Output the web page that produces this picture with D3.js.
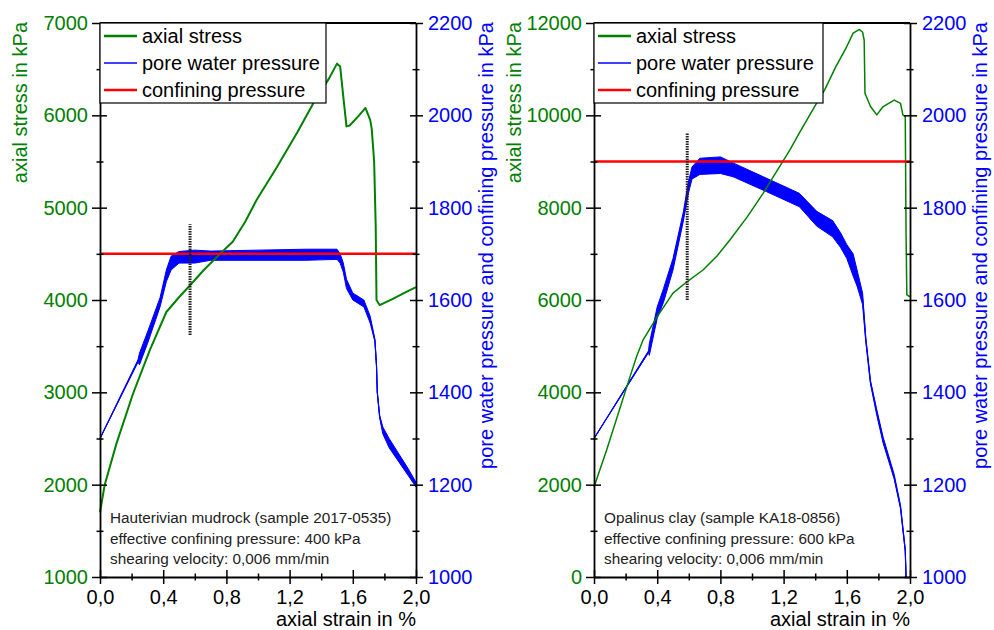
<!DOCTYPE html>
<html>
<head>
<meta charset="utf-8">
<script src="https://cdnjs.cloudflare.com/ajax/libs/d3/7.8.5/d3.min.js"></script>
<style>
  body { margin: 0; background: #fff; }
  svg { display: block; font-family: "Liberation Sans", Arial, sans-serif; }
</style>
</head>
<body>
<svg width="994" height="630"></svg>
<script>
// shared axes
const strainTicks = [0, 0.4, 0.8, 1.2, 1.6, 2.0];
const strainMinor = [0.2, 0.6, 1.0, 1.4, 1.8];
const poreTicks = [1000, 1200, 1400, 1600, 1800, 2000, 2200];
const poreMinor = [1100, 1300, 1500, 1700, 1900, 2100];
const legendLabels = ['axial stress', 'pore water pressure', 'confining pressure'];

// left panel: Hauterivian mudrock  [strain %, kPa]
const hauStressTicks = [1000, 2000, 3000, 4000, 5000, 6000, 7000];
const hauStressMinor = [1500, 2500, 3500, 4500, 5500, 6500];
const hauStress = [
  [0, 1700], [0.03, 2000], [0.105, 2450], [0.21, 2990], [0.316, 3460], [0.42, 3870],
  [0.5, 4030], [0.57, 4160], [0.66, 4330], [0.76, 4500], [0.84, 4630], [0.92, 4850],
  [0.99, 5080], [1.12, 5440], [1.25, 5820], [1.35, 6130], [1.45, 6400], [1.5, 6560],
  [1.52, 6530], [1.54, 6200], [1.56, 5880], [1.58, 5890], [1.64, 6000], [1.68, 6080],
  [1.71, 5950], [1.72, 5850], [1.735, 5500], [1.745, 4800], [1.75, 4000], [1.77, 3945],
  [1.85, 4010], [1.93, 4080], [2.0, 4140]
];
// [strain %, lower kPa, upper kPa]
const hauPore = [
  [0, 1300, 1300], [0.24, 1465, 1470], [0.25, 1460, 1485], [0.3, 1505, 1530],
  [0.38, 1585, 1605], [0.42, 1640, 1665], [0.45, 1665, 1695], [0.5, 1680, 1705],
  [0.6, 1680, 1708], [0.7, 1686, 1706], [1.0, 1686, 1708], [1.3, 1686, 1710],
  [1.5, 1688, 1710], [1.52, 1680, 1700], [1.54, 1660, 1680], [1.56, 1625, 1645],
  [1.6, 1600, 1615], [1.67, 1585, 1600], [1.71, 1550, 1565], [1.74, 1510, 1515],
  [1.75, 1455, 1460], [1.755, 1400, 1400], [1.77, 1345, 1350], [1.79, 1310, 1325],
  [1.83, 1280, 1300], [1.9, 1245, 1262], [1.95, 1220, 1235], [2.0, 1195, 1205]
];
const hauConfining = 1700;
const hauMarker = [0.57, 3620, 4820];
const hauNotes = ['Hauterivian mudrock (sample 2017-0535)', 'effective confining pressure: 400 kPa', 'shearing velocity: 0,006 mm/min'];

// right panel: Opalinus clay
const opaStressTicks = [0, 2000, 4000, 6000, 8000, 10000, 12000];
const opaStressMinor = [1000, 3000, 5000, 7000, 9000, 11000];
const opaStress = [
  [0, 1950], [0.08, 2750], [0.228, 4340], [0.27, 4780], [0.31, 5130], [0.4, 5640],
  [0.5, 6150], [0.59, 6400], [0.69, 6650], [0.78, 6960], [0.86, 7300], [0.97, 7800],
  [1.07, 8310], [1.2, 9030], [1.24, 9250], [1.3, 9620], [1.41, 10270], [1.46, 10550],
  [1.53, 11050], [1.6, 11490], [1.64, 11780], [1.68, 11860], [1.7, 11800], [1.71, 11630],
  [1.715, 10480], [1.75, 10190], [1.79, 10010], [1.83, 10190], [1.9, 10330], [1.94, 10260],
  [1.955, 10010], [1.97, 9970], [1.975, 7450], [1.98, 6110], [2.0, 6070]
];
const opaPore = [
  [0, 1300, 1300], [0.345, 1486, 1490], [0.35, 1480, 1505], [0.4, 1560, 1585],
  [0.44, 1595, 1625], [0.5, 1665, 1690], [0.565, 1770, 1790], [0.597, 1830, 1855],
  [0.62, 1862, 1888], [0.67, 1872, 1907], [0.8, 1874, 1910], [0.88, 1867, 1897],
  [1.09, 1835, 1864], [1.3, 1802, 1831], [1.41, 1760, 1792], [1.51, 1737, 1772],
  [1.56, 1714, 1746], [1.6, 1690, 1720], [1.64, 1652, 1700], [1.665, 1630, 1665],
  [1.7, 1590, 1615], [1.72, 1510, 1520], [1.75, 1418, 1425], [1.79, 1350, 1362],
  [1.83, 1290, 1303], [1.9, 1212, 1222], [1.94, 1148, 1155], [1.97, 1055, 1060],
  [1.975, 1000, 1000]
];
const opaConfining = 1900;
const opaMarker = [0.59, 6000, 9620];
const opaNotes = ['Opalinus clay (sample KA18-0856)', 'effective confining pressure: 600 kPa', 'shearing velocity: 0,006 mm/min'];

const green = '#008000', blue = '#0000ff', red = '#ff0000';
const plotTop = 23, plotBottom = 577;

const svg = d3.select('svg');

const panels = [
  { left: 100, right: 416, domain: [1000, 7000], ticks: hauStressTicks, minor: hauStressMinor,
    stress: hauStress, pore: hauPore, confining: hauConfining, marker: hauMarker, notes: hauNotes,
    legendW: 226, stressW: 2 },
  { left: 594, right: 910, domain: [0, 12000], ticks: opaStressTicks, minor: opaStressMinor,
    stress: opaStress, pore: opaPore, confining: opaConfining, marker: opaMarker, notes: opaNotes,
    legendW: 229, stressW: 1.5 }
];

const fmtStrain = d => d3.format('.1f')(d).replace('.', ',');

panels.forEach(drawPanel);

function drawPanel(p) {
  const x = d3.scaleLinear().domain([0, 2]).range([p.left, p.right]);
  const y = d3.scaleLinear().domain(p.domain).range([plotBottom, plotTop]);
  const y2 = d3.scaleLinear().domain([1000, 2200]).range([plotBottom, plotTop]);
  const g = svg.append('g');

  // pore water pressure band
  g.append('path').datum(p.pore)
    .attr('d', d3.area().x(d => x(d[0])).y0(d => y2(d[1])).y1(d => y2(d[2])))
    .attr('fill', blue).attr('stroke', blue).attr('stroke-width', 1);
  g.append('path').datum(p.pore)
    .attr('d', d3.line().x(d => x(d[0])).y(d => y2((d[1] + d[2]) / 2)))
    .attr('fill', 'none').attr('stroke', blue).attr('stroke-width', 1.2);

  // axial stress
  g.append('path').datum(p.stress)
    .attr('d', d3.line().x(d => x(d[0])).y(d => y(d[1])))
    .attr('fill', 'none').attr('stroke', green).attr('stroke-width', p.stressW)
    .attr('stroke-linejoin', 'round');

  // confining pressure
  g.append('line')
    .attr('x1', x(0)).attr('x2', x(2))
    .attr('y1', y2(p.confining)).attr('y2', y2(p.confining))
    .attr('stroke', red).attr('stroke-width', 2.5);

  // marker
  g.append('line')
    .attr('x1', x(p.marker[0])).attr('x2', x(p.marker[0]))
    .attr('y1', y(p.marker[1])).attr('y2', y(p.marker[2]))
    .attr('stroke', '#222').attr('stroke-width', 3).attr('stroke-dasharray', '1.5,1');

  // frame top
  g.append('line').attr('x1', p.left).attr('x2', p.right).attr('y1', plotTop).attr('y2', plotTop)
    .attr('stroke', '#000').attr('stroke-width', 1.8);

  // bottom axis
  const xa = g.append('g').attr('transform', `translate(0,${plotBottom})`)
    .call(d3.axisBottom(x).tickValues(strainTicks).tickSize(7).tickSizeOuter(0).tickPadding(6).tickFormat(fmtStrain));
  xa.selectAll('.tick line').attr('y1', -7);
  const xm = g.append('g').attr('transform', `translate(0,${plotBottom})`)
    .call(d3.axisBottom(x).tickValues(strainMinor).tickSize(3.5).tickFormat(''));
  xm.selectAll('.tick line').attr('y1', -3.5);
  xm.select('.domain').remove();

  // left axis
  const ya = g.append('g').attr('transform', `translate(${p.left},0)`)
    .call(d3.axisLeft(y).tickValues(p.ticks).tickSize(8).tickSizeOuter(0).tickPadding(4).tickFormat(d3.format('d')));
  ya.selectAll('.tick line').attr('x1', 7);
  ya.selectAll('text').attr('fill', green);
  const ym = g.append('g').attr('transform', `translate(${p.left},0)`)
    .call(d3.axisLeft(y).tickValues(p.minor).tickSize(3.5).tickFormat(''));
  ym.selectAll('.tick line').attr('x1', 3.5);
  ym.select('.domain').remove();

  // right axis
  const y2a = g.append('g').attr('transform', `translate(${p.right},0)`)
    .call(d3.axisRight(y2).tickValues(poreTicks).tickSize(7).tickSizeOuter(0).tickPadding(5).tickFormat(d3.format('d')));
  y2a.selectAll('.tick line').attr('x1', -6);
  y2a.selectAll('text').attr('fill', blue);
  const y2m = g.append('g').attr('transform', `translate(${p.right},0)`)
    .call(d3.axisRight(y2).tickValues(poreMinor).tickSize(3.5).tickFormat(''));
  y2m.selectAll('.tick line').attr('x1', -3.5);
  y2m.select('.domain').remove();

  [xa, ya, y2a].forEach(a => {
    a.attr('font-size', 20).attr('font-family', null);
    a.select('.domain').attr('stroke-width', 1.8);
  });
  g.selectAll('.tick line').attr('stroke-width', 1.5);

  // axis titles
  g.append('text').attr('x', p.right).attr('y', 626).attr('text-anchor', 'end')
    .attr('font-size', 20).text('axial strain in %');
  g.append('text').attr('transform', `translate(${p.left - 73},${plotTop - 1}) rotate(-90)`)
    .attr('text-anchor', 'end').attr('font-size', 20).attr('fill', green)
    .text('axial stress in kPa');
  g.append('text').attr('transform', `translate(${p.right + 77},${plotTop - 1}) rotate(-90)`)
    .attr('text-anchor', 'end').attr('font-size', 20).attr('fill', blue)
    .text('pore water pressure and confining pressure in kPa');

  // notes
  g.append('g').selectAll('text').data(p.notes).enter().append('text')
    .attr('x', p.left + 10).attr('y', (d, i) => 523 + i * 20.7)
    .attr('font-size', 15.3).attr('fill', '#222').text(d => d);

  // legend
  const lg = g.append('g').attr('transform', `translate(${p.left},${plotTop})`);
  lg.append('rect').attr('width', p.legendW).attr('height', 80)
    .attr('fill', '#fff').attr('stroke', '#000').attr('stroke-width', 1.2);
  const cols = [green, blue, red], widths = [2.5, 1.5, 2.5];
  legendLabels.forEach((t, i) => {
    const ry = 13 + i * 27;
    lg.append('line').attr('x1', 4).attr('x2', 37).attr('y1', ry).attr('y2', ry)
      .attr('stroke', cols[i]).attr('stroke-width', widths[i]);
    lg.append('text').attr('x', 42).attr('y', ry + 7).attr('font-size', 20).text(t);
  });
}
</script>
</body>
</html>
